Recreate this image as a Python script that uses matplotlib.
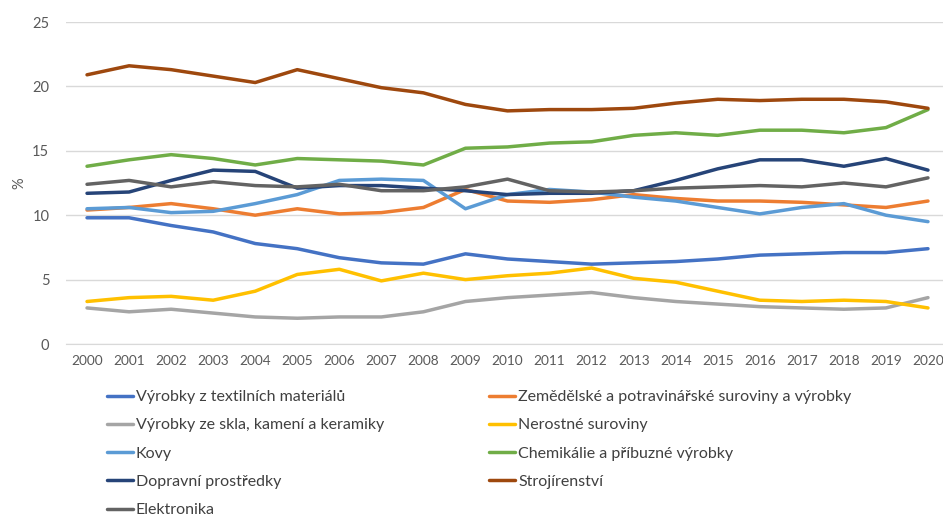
import matplotlib.pyplot as plt
import numpy as np

plt.rcParams['font.family'] = ['Lato', 'DejaVu Sans']

years = list(range(2000, 2021))

textil = [9.8, 9.8, 9.2, 8.7, 7.8, 7.4, 6.7, 6.3, 6.2, 7.0, 6.6, 6.4, 6.2, 6.3, 6.4, 6.6, 6.9, 7.0, 7.1, 7.1, 7.4]
zemedelske = [10.4, 10.6, 10.9, 10.5, 10.0, 10.5, 10.1, 10.2, 10.6, 12.0, 11.1, 11.0, 11.2, 11.6, 11.3, 11.1, 11.1, 11.0, 10.8, 10.6, 11.1]
sklo = [2.8, 2.5, 2.7, 2.4, 2.1, 2.0, 2.1, 2.1, 2.5, 3.3, 3.6, 3.8, 4.0, 3.6, 3.3, 3.1, 2.9, 2.8, 2.7, 2.8, 3.6]
nerostne = [3.3, 3.6, 3.7, 3.4, 4.1, 5.4, 5.8, 4.9, 5.5, 5.0, 5.3, 5.5, 5.9, 5.1, 4.8, 4.1, 3.4, 3.3, 3.4, 3.3, 2.8]
kovy = [10.5, 10.6, 10.2, 10.3, 10.9, 11.6, 12.7, 12.8, 12.7, 10.5, 11.6, 12.0, 11.8, 11.4, 11.1, 10.6, 10.1, 10.6, 10.9, 10.0, 9.5]
chemikalie = [13.8, 14.3, 14.7, 14.4, 13.9, 14.4, 14.3, 14.2, 13.9, 15.2, 15.3, 15.6, 15.7, 16.2, 16.4, 16.2, 16.6, 16.6, 16.4, 16.8, 18.2]
dopravni = [11.7, 11.8, 12.7, 13.5, 13.4, 12.1, 12.3, 12.3, 12.1, 11.9, 11.6, 11.7, 11.7, 11.9, 12.7, 13.6, 14.3, 14.3, 13.8, 14.4, 13.5]
strojirenstvi = [20.9, 21.6, 21.3, 20.8, 20.3, 21.3, 20.6, 19.9, 19.5, 18.6, 18.1, 18.2, 18.2, 18.3, 18.7, 19.0, 18.9, 19.0, 19.0, 18.8, 18.3]
elektronika = [12.4, 12.7, 12.2, 12.6, 12.3, 12.2, 12.4, 11.9, 11.9, 12.2, 12.8, 11.9, 11.8, 11.9, 12.1, 12.2, 12.3, 12.2, 12.5, 12.2, 12.9]

series = [
    ("Výrobky z textilních materiálů", textil, "#4472C4"),
    ("Zemědělské a potravinářské suroviny a výrobky", zemedelske, "#ED7D31"),
    ("Výrobky ze skla, kamení a keramiky", sklo, "#A5A5A5"),
    ("Nerostné suroviny", nerostne, "#FFC000"),
    ("Kovy", kovy, "#5B9BD5"),
    ("Chemikálie a příbuzné výrobky", chemikalie, "#70AD47"),
    ("Dopravní prostředky", dopravni, "#264478"),
    ("Strojírenství", strojirenstvi, "#9E480E"),
    ("Elektronika", elektronika, "#636363"),
]

fig = plt.figure(figsize=(9.43, 5.17), dpi=100)
ax = fig.add_axes([66 / 943, 173 / 517, 883 / 943, 322 / 517])

x = np.arange(len(years))
handles = []
for name, vals, col in series:
    h, = ax.plot(x, vals, color=col, lw=2.5, label=name, solid_capstyle='round')
    handles.append(h)

ax.set_xlim(-0.5, len(years) - 0.5)
ax.set_ylim(0, 25)
ax.set_yticks(range(0, 26, 5))
ax.set_xticks(x)
ax.set_xticklabels([str(y) for y in years])
ax.grid(axis='y', color='#d9d9d9', lw=1)
ax.set_axisbelow(True)
for s in ['top', 'right', 'left']:
    ax.spines[s].set_visible(False)
ax.spines['bottom'].set_color('#d9d9d9')
ax.tick_params(axis='both', length=0, colors='#595959', labelsize=10.5)
ax.tick_params(axis='x', pad=8, labelsize=9.8)
ax.tick_params(axis='y', pad=12)
ax.set_ylabel('%', color='#595959', fontsize=10.5, labelpad=4)

# matplotlib fills legend columns first, so reorder to get row-wise layout
order = [0, 2, 4, 6, 8, 1, 3, 5, 7]
fig.legend([handles[i] for i in order], [series[i][0] for i in order],
           ncol=2, loc='upper left', bbox_to_anchor=(107 / 943, 1 - 390 / 517),
           frameon=False, fontsize=11.5, handlelength=1.6, handletextpad=0.2,
           labelspacing=0.88, columnspacing=6.6, borderpad=0, borderaxespad=0,
           labelcolor='#404040')

fig.savefig('out.png', dpi=100)
